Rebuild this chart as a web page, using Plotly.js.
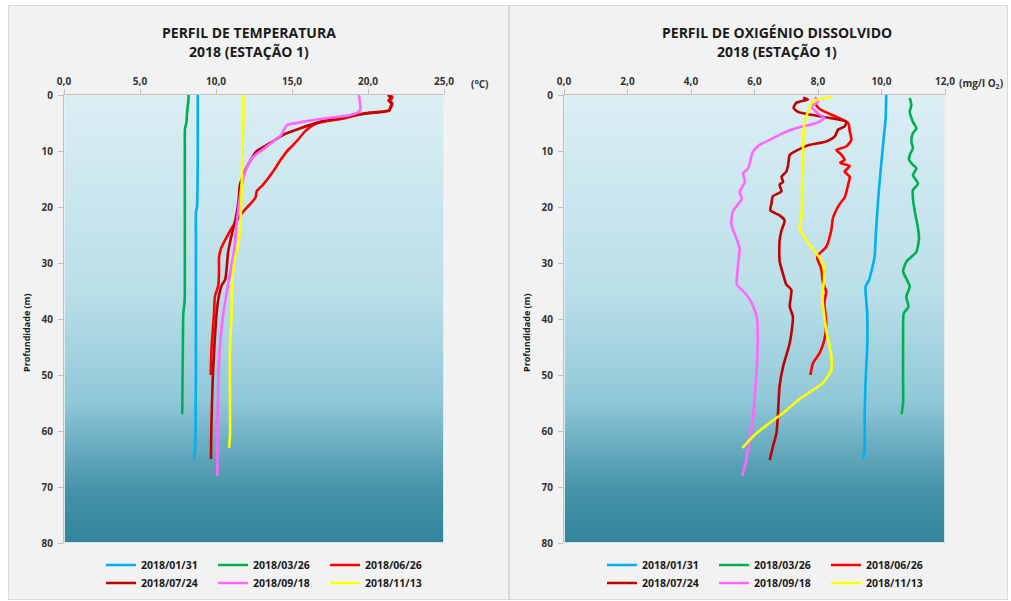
<!DOCTYPE html>
<html><head><meta charset="utf-8">
<script src="https://cdn.plot.ly/plotly-3.0.1.min.js"></script>
<style>html,body{margin:0;padding:0;background:#fff;} #chart{width:1011px;height:601px;}</style>
</head><body><div id="chart"></div>
<script>
// ---------- DATA ----------
const dates = ['2018/01/31','2018/03/26','2018/06/26','2018/07/24','2018/09/18','2018/11/13'];
const seriesColors = ['#00b0f0','#00b050','#ff0000','#c00000','#ff66ff','#ffff00'];

// Temperature profiles (°C) vs depth (m)
const tDepth0131 = [0, 5, 10, 15, 20, 21, 25, 30, 35, 40, 45, 50, 55, 60, 63, 65];
const temp0131   = [8.8, 8.8, 8.8, 8.79, 8.75, 8.68, 8.68, 8.68, 8.68, 8.68, 8.68, 8.68, 8.66, 8.66, 8.62, 8.57];
const tDepth0326 = [0, 1, 3, 5, 6, 10, 20, 30, 35, 37, 39, 45, 50, 57];
const temp0326   = [8.2, 8.18, 8.1, 8.05, 7.96, 7.95, 7.95, 7.95, 7.95, 7.93, 7.85, 7.82, 7.8, 7.78];
const tDepth0626 = [0, 0.5, 1, 1.5, 2, 2.7, 3.3, 4.2, 5.1, 6.5, 8.3, 10.1, 11.8, 13.6, 16, 17.2, 18.3, 19.5, 20.8, 22, 23.8, 25.6, 27.4, 29, 31.4, 34, 36, 39, 45, 50];
const temp0626   = [21.5, 21.6, 21.45, 21.6, 21.55, 21.4, 19.7, 18.4, 16.6, 15.86, 15.3, 14.65, 14.2, 13.77, 13.1, 12.68, 12.6, 12.24, 11.8, 11.47, 11.03, 10.66, 10.33, 10.2, 10.2, 10.15, 9.93, 9.87, 9.71, 9.65];
const tDepth0724 = [0, 0.5, 1, 1.5, 2.4, 2.8, 3.3, 4.2, 4.8, 6, 7.1, 8.6, 10, 11.8, 13.6, 16, 19, 22, 25, 28, 31, 33, 34, 36.5, 39, 45, 51, 60, 65];
const temp0724   = [21.3, 21.5, 21.35, 21.55, 21.45, 21.4, 19.9, 17.94, 16.84, 15.5, 14.43, 13.55, 12.68, 12.24, 11.9, 11.58, 11.48, 11.3, 11.03, 10.8, 10.7, 10.6, 10.37, 10.15, 10.04, 9.89, 9.78, 9.69, 9.67];
const tDepth0918 = [0, 1, 2.3, 3, 3.6, 4.2, 4.8, 5.4, 6, 7.1, 8.3, 10.1, 11.3, 13, 16, 22, 28, 33, 39, 45, 51, 60, 68];
const temp0918   = [19.4, 19.45, 19.5, 19.4, 18.8, 17.06, 15.7, 14.65, 14.5, 14.3, 13.77, 12.9, 12.35, 12.02, 11.7, 11.4, 11.18, 10.85, 10.48, 10.26, 10.15, 10.1, 10.09];
const tDepth1113 = [0, 4, 10, 16, 20, 23.8, 27, 29, 31, 34, 39, 45, 55, 61, 63];
const temp1113   = [11.8, 11.8, 11.75, 11.69, 11.65, 11.58, 11.45, 11.25, 11.15, 11.05, 11.03, 10.92, 10.92, 10.92, 10.86];

// Dissolved oxygen profiles (mg/l O2) vs depth (m)
const oDepth0131 = [0, 4.2, 7.1, 13, 19, 25, 29, 31.5, 33, 34.2, 39, 45, 51, 57, 63, 65];
const oxy0131    = [10.15, 10.13, 10.08, 9.98, 9.89, 9.82, 9.78, 9.68, 9.61, 9.5, 9.55, 9.55, 9.5, 9.47, 9.47, 9.42];
const oDepth0326 = [0.5, 1.8, 3, 4.8, 5.95, 6.8, 8.3, 9.5, 10.7, 11.6, 12.5, 13.1, 14.3, 15.8, 17, 18.5, 20.8, 23.8, 25.6, 28, 29.8, 31.5, 33, 34.2, 36, 37.8, 39, 42, 51, 55, 57];
const oxy0326    = [10.89, 10.94, 10.89, 10.99, 11.1, 10.99, 10.94, 10.99, 10.89, 10.87, 10.99, 11.1, 10.99, 11.15, 10.99, 10.99, 11.05, 11.15, 11.18, 11.1, 10.78, 10.68, 10.8, 10.89, 10.78, 10.85, 10.7, 10.68, 10.68, 10.68, 10.63];
const oDepth0626 = [1.5, 2.5, 3.8, 5, 6.5, 8, 9.2, 9.8, 10.7, 11.6, 12.1, 12.7, 13.7, 14.6, 16, 18.3, 19.5, 22, 24.1, 27.1, 28.6, 29.2, 31, 33.6, 35.1, 37.1, 40.7, 43.75, 46.1, 47.9, 50];
const oxy0626    = [7.9, 8.05, 8.53, 8.95, 9.0, 9.05, 8.89, 8.58, 8.74, 8.84, 8.7, 9.0, 8.84, 9.0, 8.95, 8.84, 8.68, 8.47, 8.42, 8.26, 8.0, 7.98, 8.1, 8.16, 8.26, 8.2, 8.26, 8.2, 8.05, 7.84, 7.76];
const oDepth0724 = [0.5, 0.8, 1.4, 2.3, 3, 3.5, 4.1, 4.8, 5.6, 6.2, 7.4, 8.3, 8.9, 9.5, 10.7, 12.5, 13.7, 14.6, 15.5, 16, 17.2, 18.1, 19.5, 20.6, 21.5, 22.4, 24.2, 26, 29.6, 32, 33.8, 34.8, 37.8, 39.6, 44.3, 48.5, 52, 56.8, 60.4, 62.8, 65.2];
const oxy0724    = [7.53, 7.68, 7.32, 7.23, 7.37, 7.74, 8.37, 8.89, 8.84, 8.63, 8.53, 8.26, 7.74, 7.48, 7.11, 7.06, 7.0, 6.85, 6.9, 6.79, 6.85, 6.58, 6.53, 6.5, 6.79, 6.95, 6.85, 6.79, 6.79, 6.9, 7.0, 7.16, 7.11, 7.21, 7.11, 6.9, 6.79, 6.74, 6.69, 6.58, 6.48];
const oDepth0918 = [0.4, 1.2, 2.1, 3.5, 4.1, 5, 5.9, 6.8, 8, 8.9, 10.1, 13.1, 14, 15.5, 17.3, 18.5, 20.8, 23, 25.6, 27.4, 30.4, 33.9, 35, 36.5, 38.3, 40, 44.8, 50.7, 54.3, 57.9, 61.5, 65.2, 68];
const oxy0918    = [7.9, 8.0, 7.79, 8.05, 8.2, 7.95, 7.32, 6.9, 6.48, 6.16, 5.95, 5.8, 5.64, 5.7, 5.53, 5.6, 5.32, 5.27, 5.43, 5.53, 5.48, 5.45, 5.64, 5.85, 6.0, 6.08, 6.1, 6.05, 6.0, 5.95, 5.85, 5.74, 5.62];
const oDepth1113 = [0.4, 1.1, 2.3, 4.7, 9.1, 13, 16, 19, 22, 23.8, 25.9, 28.3, 30.1, 33, 36, 40, 42, 46.7, 49.1, 51.4, 52.7, 54.3, 56.8, 59, 61, 63];
const oxy1113    = [8.42, 7.84, 7.74, 7.58, 7.53, 7.53, 7.5, 7.5, 7.48, 7.42, 7.63, 7.95, 8.16, 8.19, 8.13, 8.21, 8.26, 8.42, 8.42, 8.16, 7.84, 7.42, 6.9, 6.37, 5.95, 5.62];

const tempSeries = [[temp0131,tDepth0131],[temp0326,tDepth0326],[temp0626,tDepth0626],[temp0724,tDepth0724],[temp0918,tDepth0918],[temp1113,tDepth1113]];
const oxySeries  = [[oxy0131,oDepth0131],[oxy0326,oDepth0326],[oxy0626,oDepth0626],[oxy0724,oDepth0724],[oxy0918,oDepth0918],[oxy1113,oDepth1113]];

const titleLeft1 = 'PERFIL DE TEMPERATURA';
const titleRight1 = 'PERFIL DE OXIGÉNIO DISSOLVIDO';
const titleSub = '2018 (ESTAÇÃO 1)';
const yTitle = 'Profundidade (m)';
const tempUnit = '(°C)';
const oxyUnit = '(mg/l O<sub>2</sub>)';

// ---------- LAYOUT GEOMETRY ----------
const W = 1011, H = 601;
const PT = 95, PB = 543;            // plot area top / bottom (px)
const L1 = 64, R1 = 444;            // left plot area
const L2 = 564, R2 = 945;           // right plot area
const FONT = 'Open Sans, Liberation Sans, sans-serif';

// background: panels + gradient plot areas
const cv = document.createElement('canvas'); cv.width = W; cv.height = H;
const ctx = cv.getContext('2d');
ctx.fillStyle = '#ffffff'; ctx.fillRect(0,0,W,H);
function panel(x0,x1){
  ctx.fillStyle = '#f2f2f2'; ctx.fillRect(x0,5,x1-x0,595);
  ctx.strokeStyle = '#d9d9d9'; ctx.lineWidth = 1; ctx.strokeRect(x0+0.5,5.5,x1-x0-1,594);
}
panel(8,509); panel(509,1008);
function plotBg(x0,x1){
  const g = ctx.createLinearGradient(0,PT,0,PB);
  g.addColorStop(0,'#dbeef4');
  g.addColorStop(0.45,'#b9dee8');
  g.addColorStop(0.68,'#90c8d8');
  g.addColorStop(0.88,'#4593a9');
  g.addColorStop(1,'#31849b');
  ctx.fillStyle = g; ctx.fillRect(x0,PT,x1-x0,PB-PT);
  ctx.strokeStyle = 'rgba(230,240,244,0.9)'; ctx.strokeRect(x0+0.5,PT+0.5,x1-x0-1,PB-PT-1);
}
plotBg(L1,R1); plotBg(L2,R2);
const bgURL = cv.toDataURL('image/png');

// ---------- TRACES ----------
const traces = [];
const legendFor = i => (i < 3 ? 0 : 1);
tempSeries.forEach((s,i) => {
  traces.push({type:'scatter', mode:'lines', x:s[0], y:s[1], name:dates[i],
    xaxis:'x', yaxis:'y', legend: legendFor(i)===0 ? 'legend' : 'legend2',
    line:{color:seriesColors[i], width:2.6, shape:'spline', smoothing:0.6}, hoverinfo:'x+y'});
});
oxySeries.forEach((s,i) => {
  traces.push({type:'scatter', mode:'lines', x:s[0], y:s[1], name:dates[i],
    xaxis:'x2', yaxis:'y2', legend: legendFor(i)===0 ? 'legend3' : 'legend4',
    line:{color:seriesColors[i], width:2.6, shape:'spline', smoothing:0.6}, hoverinfo:'x+y'});
});

const tickFont = {family:FONT, size:10, color:'#333333', weight:700};
const yDom = [1-PB/H, 1-PT/H];
function xAx(l,r,range,dtick,anchor){
  return {domain:[l/W,r/W], anchor:anchor, side:'top', range:range, dtick:dtick, tick0:0,
    tickformat:'.1f', ticks:'outside', ticklen:5, tickcolor:'#bfbfbf', tickwidth:1,
    showline:true, linecolor:'#bfbfbf', linewidth:1, showgrid:false, zeroline:false,
    tickfont:tickFont, fixedrange:true, automargin:false};
}
function yAx(anchor){
  return {domain:yDom, anchor:anchor, range:[80,0], dtick:10, tick0:0, ticks:'outside', ticklen:5,
    tickcolor:'#bfbfbf', showline:true, linecolor:'#bfbfbf', linewidth:1, showgrid:false,
    zeroline:false, tickfont:tickFont, ticklabelstandoff:3, fixedrange:true, automargin:false};
}
const legFont = {family:FONT, size:10.5, color:'#1a1a1a', weight:700};
function leg(xpx, ypx){
  return {x:xpx/W, xanchor:'left', y:1-ypx/H, yanchor:'middle', orientation:'h',
    entrywidth:67, entrywidthmode:'pixels', bgcolor:'rgba(0,0,0,0)', borderwidth:0,
    font:legFont, itemwidth:30, tracegroupgap:0, itemclick:false, itemdoubleclick:false};
}
const titleFont = {family:FONT, size:14, color:'#1a1a1a', weight:700};
const ann = (text,xpx,ypx,font,extra) => Object.assign({text:text, x:xpx/W, y:1-ypx/H, xref:'paper', yref:'paper',
  showarrow:false, xanchor:'center', yanchor:'middle', font:font}, extra||{});
const axTitleFont = {family:FONT, size:9, color:'#1a1a1a', weight:700};

const layout = {
  width:W, height:H, margin:{l:0,r:0,t:0,b:0, autoexpand:false}, paper_bgcolor:'#ffffff', plot_bgcolor:'rgba(0,0,0,0)',
  separators:', ', showlegend:true,
  xaxis: xAx(L1,R1,[0,25],5,'y'),
  yaxis: yAx('x'),
  xaxis2: xAx(L2,R2,[0,12],2,'y2'),
  yaxis2: yAx('x2'),
  legend: leg(101,565), legend2: leg(101,583), legend3: leg(602,565), legend4: leg(602,583),
  images:[{source:bgURL, xref:'paper', yref:'paper', x:0, y:1, sizex:1, sizey:1,
    xanchor:'left', yanchor:'top', sizing:'stretch', layer:'below'}],
  annotations:[
    ann(titleLeft1,248.5,33,titleFont), ann(titleSub,248.5,51,titleFont),
    ann(titleRight1,777,33,titleFont), ann(titleSub,777,51,titleFont),
    ann(tempUnit,479,84,tickFont), ann(oxyUnit,981,83,tickFont),
    ann(yTitle,27,333,axTitleFont,{textangle:-90}), ann(yTitle,527,333,axTitleFont,{textangle:-90})
  ]
};
Plotly.newPlot('chart', traces, layout, {displayModeBar:false, staticPlot:true});
</script></body></html>
